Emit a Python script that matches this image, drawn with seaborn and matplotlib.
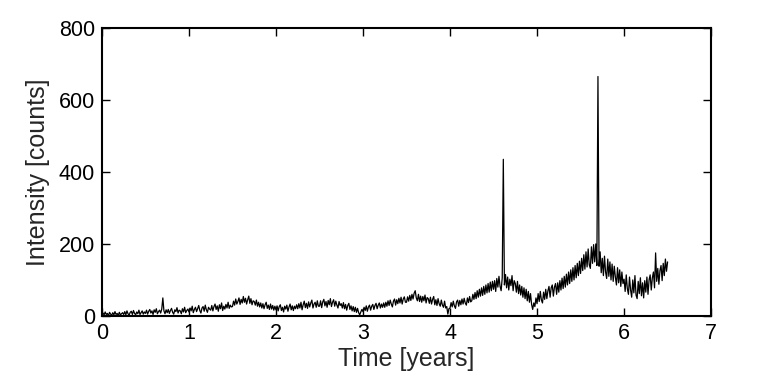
import numpy as np
import pandas as pd
import matplotlib
matplotlib.use("Agg")
import matplotlib.pyplot as plt
import seaborn as sns

# Sampling step of the time axis [years]
TIME_STEP = 0.0125

# Intensity [counts], one value per TIME_STEP, 0.25 yr per row
s00 = [1, 8, 3, 11, 4, 7, 0, 10, 5, 2, 9, 3, 12, 4, 7, 1, 10, 3, 6, 9]
s01 = [4, 12, 3, 14, 6, 2, 10, 13, 4, 15, 7, 3, 11, 6, 16, 4, 9, 14, 5, 11]
s02 = [7, 16, 5, 13, 18, 8, 14, 4, 17, 10, 20, 6, 12, 16, 8, 19, 50, 14, 6, 17]
s03 = [9, 18, 7, 15, 21, 10, 5, 17, 12, 23, 8, 16, 14, 6, 20, 11, 24, 9, 15, 19]
s04 = [11, 22, 14, 27, 9, 18, 24, 12, 20, 29, 15, 8, 22, 26, 13, 30, 17, 10, 24, 19]
s05 = [16, 29, 14, 26, 33, 18, 28, 13, 31, 20, 36, 15, 27, 19, 32, 22, 38, 21, 30, 25]
s06 = [26, 41, 30, 47, 33, 40, 50, 32, 46, 36, 54, 38, 49, 33, 45, 55, 35, 48, 31, 42]
s07 = [40, 30, 44, 27, 38, 25, 36, 22, 34, 20, 31, 38, 21, 30, 18, 33, 19, 29, 16, 27]
s08 = [17, 28, 14, 26, 31, 15, 24, 11, 27, 19, 30, 13, 25, 33, 17, 28, 15, 27, 20, 31]
s09 = [20, 34, 22, 38, 17, 31, 41, 23, 35, 21, 39, 25, 36, 44, 22, 33, 38, 24, 42, 27]
s10 = [27, 42, 23, 39, 46, 28, 40, 24, 43, 31, 48, 26, 38, 45, 27, 41, 30, 22, 40, 29]
s11 = [34, 22, 37, 20, 32, 16, 29, 35, 18, 28, 14, 26, 12, 24, 10, 21, 9, 3, 11, 18]
s12 = [12, 24, 15, 28, 13, 25, 30, 16, 27, 32, 18, 29, 35, 20, 30, 36, 22, 33, 24, 36]
s13 = [24, 38, 27, 42, 29, 44, 33, 25, 41, 47, 30, 45, 34, 49, 36, 52, 33, 47, 53, 38]
s14 = [38, 53, 41, 57, 43, 60, 47, 63, 70, 50, 42, 60, 40, 55, 38, 54, 42, 58, 36, 51]
s15 = [48, 35, 52, 33, 46, 54, 31, 45, 29, 48, 34, 27, 44, 30, 24, 41, 22, 26, 5, 20]
s16 = [22, 37, 25, 41, 28, 21, 39, 44, 27, 43, 31, 47, 33, 49, 36, 30, 50, 37, 54, 39]
s17 = [42, 60, 46, 65, 48, 70, 52, 74, 55, 78, 57, 82, 60, 86, 64, 90, 66, 94, 70, 96]
s18 = [74, 98, 68, 104, 80, 110, 82, 70, 106, 435, 86, 115, 78, 108, 72, 102, 84, 112, 70, 98]
s19 = [90, 66, 96, 62, 86, 58, 82, 52, 78, 48, 74, 42, 68, 38, 62, 32, 18, 36, 26, 50]
s20 = [34, 62, 40, 68, 44, 36, 66, 46, 74, 48, 70, 82, 52, 78, 86, 55, 80, 90, 60, 92]
s21 = [66, 98, 72, 105, 76, 110, 80, 116, 86, 122, 90, 128, 96, 134, 100, 140, 106, 146, 112, 152]
s22 = [118, 160, 126, 170, 130, 178, 136, 186, 142, 132, 192, 146, 198, 150, 200, 140, 665, 138, 178, 120]
s23 = [160, 112, 166, 122, 104, 158, 110, 150, 100, 144, 96, 138, 108, 86, 134, 92, 128, 82, 122, 90]
s24 = [102, 68, 114, 76, 60, 108, 72, 52, 100, 64, 112, 58, 48, 96, 62, 106, 56, 92, 50, 98]
s25 = [66, 108, 60, 100, 114, 72, 106, 122, 78, 175, 96, 132, 88, 126, 140, 98, 146, 112, 158, 124]
s26 = [150]

intensity = (s00 + s01 + s02 + s03 + s04 + s05 + s06 + s07 + s08 + s09 + s10
             + s11 + s12 + s13 + s14 + s15 + s16 + s17 + s18 + s19 + s20
             + s21 + s22 + s23 + s24 + s25 + s26)
time_years = np.arange(len(intensity)) * TIME_STEP

x_ticks = [0, 1, 2, 3, 4, 5, 6, 7]
y_ticks = [0, 200, 400, 600, 800]

df = pd.DataFrame({"Time": time_years, "Intensity": intensity})

sns.set_style("ticks")
plt.rcParams["font.family"] = ["Liberation Sans", "DejaVu Sans"]
plt.rcParams["xtick.direction"] = "in"
plt.rcParams["ytick.direction"] = "in"

fig = plt.figure(figsize=(7.84, 3.77), dpi=100)
ax = fig.add_axes([0.130, 0.162, 0.777, 0.764])

sns.lineplot(data=df, x="Time", y="Intensity", ax=ax, color="black",
             linewidth=0.9, estimator=None, sort=False)

ax.set_xlim(0, 7)
ax.set_ylim(0, 800)
ax.set_xticks(x_ticks)
ax.set_yticks(y_ticks)
ax.set_xlabel("Time [years]", fontsize=18, labelpad=2)
ax.set_ylabel("Intensity [counts]", fontsize=18, labelpad=6)
ax.tick_params(axis="both", which="major", labelsize=15.5, length=6, width=1,
               top=True, right=True, direction="in", pad=5, colors="black")
for sp in ax.spines.values():
    sp.set_visible(True)
    sp.set_linewidth(1.5)
    sp.set_color("black")

fig.savefig("out.png", dpi=100)
